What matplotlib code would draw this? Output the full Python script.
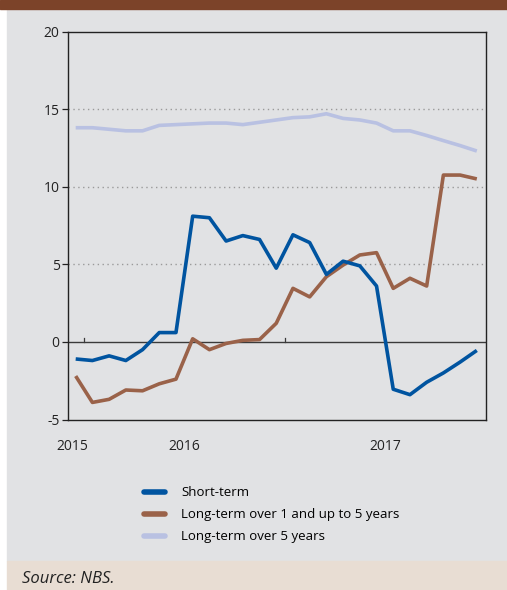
import matplotlib
matplotlib.use("Agg")
import matplotlib.pyplot as plt
import numpy as np
from matplotlib.patches import Rectangle

# monthly data, June 2015 - June 2017
months = np.arange(25)
short_term = [-1.1, -1.2, -0.9, -1.2, -0.5, 0.6, 0.6, 8.1, 8.0, 6.5, 6.85, 6.6, 4.75,
              6.9, 6.4, 4.35, 5.2, 4.9, 3.6, -3.05, -3.4, -2.6, -2.0, -1.3, -0.55]
long_1_5 = [-2.2, -3.9, -3.7, -3.1, -3.15, -2.7, -2.4, 0.2, -0.5, -0.1, 0.1, 0.15, 1.2,
            3.45, 2.9, 4.2, 4.95, 5.6, 5.75, 3.45, 4.1, 3.6, 10.75, 10.75, 10.5]
long_5 = [13.8, 13.8, 13.7, 13.6, 13.6, 13.95, 14.0, 14.05, 14.1, 14.1, 14.0, 14.15, 14.3,
          14.45, 14.5, 14.7, 14.4, 14.3, 14.1, 13.6, 13.6, 13.3, 12.97, 12.65, 12.3]
year_labels = ["2015", "2016", "2017"]
year_pos = [-0.2, 6.5, 18.5]
series_names = ["Short-term", "Long-term over 1 and up to 5 years", "Long-term over 5 years"]

C_SHORT = "#0054A0"
C_MID = "#9A6249"
C_LONG = "#B9C1E2"
BG = "#E1E2E4"

plt.rcParams["font.family"] = ["Open Sans", "DejaVu Sans"]

fig = plt.figure(figsize=(5.07, 5.90), dpi=100)
fig.patch.set_facecolor("white")
# panel background, header band, footer
fig.patches.append(Rectangle((7/507, 29/590), 1, 1, transform=fig.transFigure,
                             color=BG, zorder=-3))
fig.patches.append(Rectangle((7/507, 0), 1, 29/590, transform=fig.transFigure,
                             color="#E8DDD3", zorder=-3))
fig.patches.append(Rectangle((0, 1 - 9/590), 1, 9/590, transform=fig.transFigure,
                             color="#7C4329", zorder=-2))

ax = fig.add_axes([68/507, 1 - 419.5/590, (485.5 - 68)/507, (419.5 - 31.5)/590])
ax.set_facecolor(BG)

for y in [5, 10, 15]:
    ax.axhline(y, color="#9a9a9a", lw=1.0, ls=(0, (1, 2.5)), zorder=1)
ax.axhline(0, color="#3a3a3a", lw=1.0, zorder=1)

ax.plot(months, long_5, color=C_LONG, lw=2.6, solid_capstyle="butt", zorder=2,
        label=series_names[2])
ax.plot(months, long_1_5, color=C_MID, lw=2.6, solid_capstyle="butt", zorder=3,
        label=series_names[1])
ax.plot(months, short_term, color=C_SHORT, lw=2.6, solid_capstyle="butt", zorder=4,
        label=series_names[0])

# small year-boundary ticks on the zero line
for xt in [0.5, 12.5]:
    ax.plot([xt, xt], [0, 0.25], color="#3a3a3a", lw=0.9, zorder=1)

ax.set_xlim(-0.46, 24.52)
ax.set_ylim(-5, 20)
ax.set_yticks([-5, 0, 5, 10, 15, 20])
ax.set_yticklabels(["-5", "0", "5", "10", "15", "20"])
ax.tick_params(axis="y", length=4, width=0.9, labelsize=10, colors="#222222", pad=2)
ax.set_xticks(year_pos)
ax.set_xticklabels(year_labels)
ax.tick_params(axis="x", length=0, labelsize=10, colors="#222222", pad=14)
for s in ax.spines.values():
    s.set_color("#222222")
    s.set_linewidth(1.0)

handles, labels = ax.get_legend_handles_labels()
order = [2, 1, 0]
leg = fig.legend([handles[i] for i in order], [labels[i] for i in order],
                 loc="upper left", bbox_to_anchor=(139/507, 1 - 481/590),
                 frameon=False, fontsize=9.5, handlelength=1.6, handletextpad=1.2,
                 labelspacing=0.68, borderaxespad=0)
for line in leg.get_lines():
    line.set_linewidth(4)
    line.set_solid_capstyle("round")

fig.text(22/507, 1 - 579/590, "Source: NBS.", fontsize=12, style="italic",
         color="#222222", va="center", ha="left")

fig.savefig("out.png", dpi=100)
